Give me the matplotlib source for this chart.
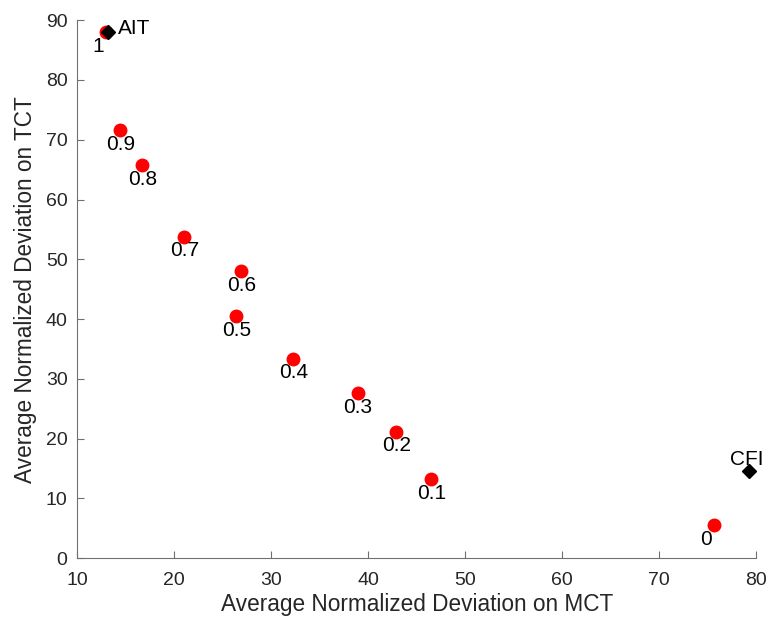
import numpy as np
import matplotlib.pyplot as plt

plt.rcParams.update({"font.family": ["Liberation Sans", "DejaVu Sans"], "font.size": 14})

# weight values and their deviations
weights = ["1", "0.9", "0.8", "0.7", "0.6", "0.5", "0.4", "0.3", "0.2", "0.1", "0"]
mct_dev = [13.0, 14.4, 16.7, 21.0, 26.9, 26.4, 32.2, 38.9, 42.9, 46.5, 75.7]
tct_dev = [88.0, 71.6, 65.7, 53.8, 48.0, 40.5, 33.4, 27.6, 21.1, 13.2, 5.5]

# reference methods
ref_names = ["AIT", "CFI"]
ref_mct = [13.2, 79.3]
ref_tct = [88.1, 14.5]

fig, ax = plt.subplots(figsize=(7.73, 6.3), dpi=100)
fig.subplots_adjust(left=0.1, right=0.978, bottom=0.114, top=0.968)

ax.plot(mct_dev, tct_dev, "o", color="red", markersize=9, linestyle="none")
for w, x, y in zip(weights, mct_dev, tct_dev):
    ax.annotate(w, (x, y), xytext=(-10, -14), textcoords="offset points",
                ha="left", va="baseline", fontsize=15, color="black")

ax.plot(ref_mct, ref_tct, "D", color="black", markersize=7.5, linestyle="none")
ax.annotate(ref_names[0], (ref_mct[0], ref_tct[0]), xytext=(7, -1.5),
            textcoords="offset points", ha="left", va="baseline", fontsize=15)
ax.annotate(ref_names[1], (ref_mct[1], ref_tct[1]), xytext=(-13.5, 5),
            textcoords="offset points", ha="left", va="baseline", fontsize=15)

ax.set_xlim(10, 80)
ax.set_ylim(0, 90)
ax.set_xticks(np.arange(10, 81, 10))
ax.set_yticks(np.arange(0, 91, 10))
ax.set_xlabel("Average Normalized Deviation on MCT", fontsize=16.3,
              color="#262626", labelpad=3)
ax.set_ylabel("Average Normalized Deviation on TCT", fontsize=16.3,
              color="#262626", labelpad=6)

for side in ["top", "right"]:
    ax.spines[side].set_visible(False)
for side in ["left", "bottom"]:
    ax.spines[side].set_color("#707070")
ax.tick_params(direction="in", length=5, color="#707070", labelcolor="#262626",
               labelsize=14)
ax.tick_params(axis="x", pad=10)
ax.tick_params(axis="y", pad=7)

plt.savefig("out.png")
